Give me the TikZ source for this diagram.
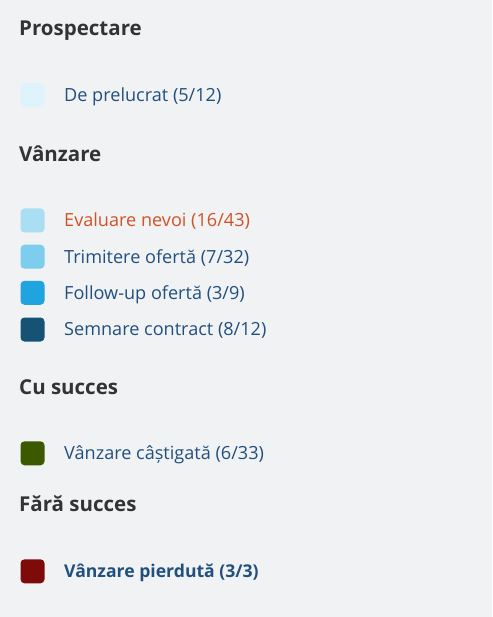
\documentclass[tikz,border=0pt]{standalone}
\usepackage{fontspec}
\setmainfont{Open Sans}
\definecolor{bg}{HTML}{F1F2F4}
\definecolor{head}{HTML}{333333}
\definecolor{item}{HTML}{22507E}
\definecolor{orangetxt}{HTML}{CF5327}
\definecolor{c1}{HTML}{DFF3FD}
\definecolor{c2}{HTML}{A9DEF3}
\definecolor{c3}{HTML}{7DCDEE}
\definecolor{c4}{HTML}{20A4DF}
\definecolor{c5}{HTML}{155273}
\definecolor{c6}{HTML}{3B5A00}
\definecolor{c7}{HTML}{7E0A0A}
\begin{document}
\begin{tikzpicture}[x=1pt,y=-1pt,
  heading/.style={anchor=base west,inner sep=0pt,text=head,font=\fontsize{20.5}{24}\selectfont\bfseries},
  label/.style={anchor=base west,inner sep=0pt,text=item,font=\fontsize{18.1}{21}\selectfont},
  swatch/.style={minimum width=24pt,minimum height=24pt,inner sep=0pt,rounded corners=4pt,draw=none}]
\fill[bg] (0,0) rectangle (492,617);
\useasboundingbox (0,0) rectangle (492,617);
\node[heading] (h1) at (19,35.7) {Prospectare};
\node[swatch,fill=c1] (s1) at (32.5,95.2) {};
\node[label] (t1) at (64,101.7) {De prelucrat (5/12)};
\node[heading] (h2) at (19,161.5) {Vânzare};
\node[swatch,fill=c2] (s2) at (32.5,220.5) {};
\node[label,text=orangetxt] (t2) at (64,226.8) {Evaluare nevoi (16/43)};
\node[swatch,fill=c3] (s3) at (32.5,256.7) {};
\node[label] (t3) at (64,263) {Trimitere ofertă (7/32)};
\node[swatch,fill=c4] (s4) at (32.5,292.8) {};
\node[label] (t4) at (64,299.1) {Follow-up ofertă (3/9)};
\node[swatch,fill=c5] (s5) at (32.5,329.5) {};
\node[label] (t5) at (64,335.8) {Semnare contract (8/12)};
\node[heading] (h3) at (19,394.3) {Cu succes};
\node[swatch,fill=c6] (s6) at (32.5,453.3) {};
\node[label] (t6) at (64,459.6) {Vânzare câștigată (6/33)};
\node[heading] (h4) at (19,511.7) {Fără succes};
\node[swatch,fill=c7] (s7) at (32.5,571.3) {};
\node[label,font=\fontsize{17.6}{21}\selectfont\bfseries] (t7) at (64,577.6) {Vânzare pierdută (3/3)};
\end{tikzpicture}
\end{document}
